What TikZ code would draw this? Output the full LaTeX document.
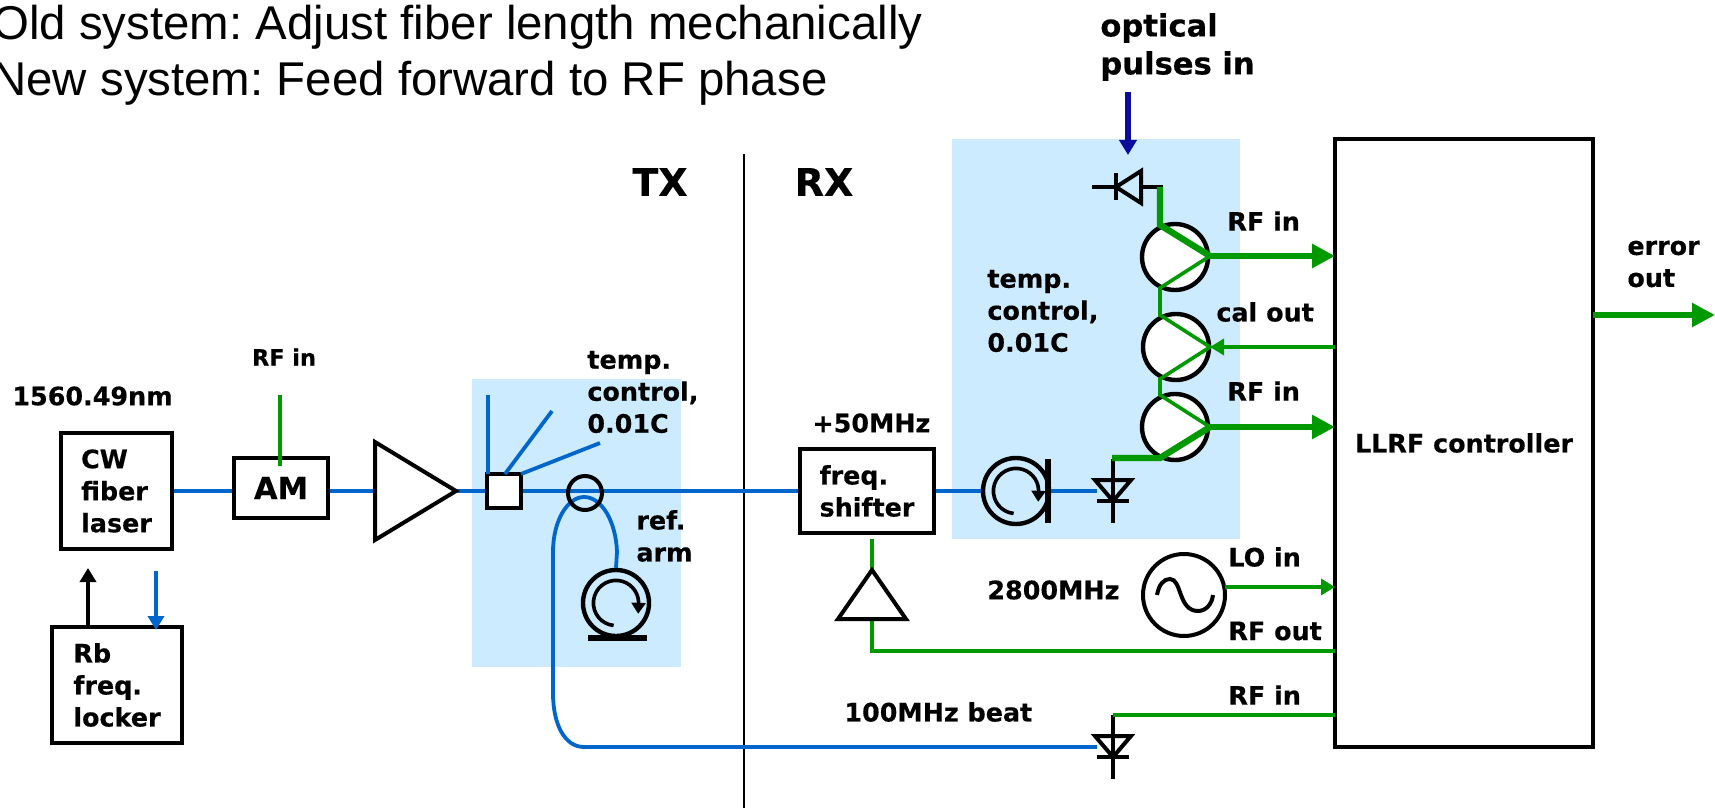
\documentclass[tikz,border=0pt]{standalone}
\usepackage{fontspec}
\setmainfont{DejaVu Sans}[BoldFeatures={FakeBold=0.35}]
\newfontfamily\arialf{Liberation Sans}
\usetikzlibrary{arrows.meta,calc}
\definecolor{lblue}{HTML}{CCEBFF}
\definecolor{fblue}{HTML}{0066CC}
\definecolor{rfgreen}{HTML}{009900}
\definecolor{dblue}{HTML}{0B0B9C}
\tikzset{
  lab/.style={font=\fontsize{12.7}{16}\selectfont\bfseries,anchor=west,inner sep=0pt,align=left},
  labsm/.style={font=\fontsize{11.2}{14}\selectfont\bfseries,inner sep=0pt},
  labbig/.style={font=\fontsize{19}{22}\selectfont\bfseries,inner sep=0pt},
  labopt/.style={font=\fontsize{15.3}{19}\selectfont\bfseries,anchor=west,inner sep=0pt,align=left},
  headline/.style={font=\fontsize{23.7}{28}\selectfont\arialf\frenchspacing,anchor=west,inner sep=0pt,text height=.72em,text depth=.2em},
  boxn/.style={draw=black,line width=2pt,fill=white,inner sep=0pt,font=\fontsize{12.7}{16}\selectfont\bfseries,align=left},
  fib/.style={draw=fblue,line width=1.9pt},
  rfthin/.style={draw=rfgreen,line width=1.8pt},
  rfthick/.style={draw=rfgreen,line width=3.2pt},
  sym/.style={draw=black,line width=2pt},
  ring/.style={circle,draw=black,line width=2.2pt,inner sep=0pt,minimum size=33pt},
  rfhead/.style={-{Triangle[length=11.5pt,width=11.5pt]}},
  rfheadsm/.style={-{Triangle[length=7pt,width=8pt]}},
  diodedn/.pic={
    \draw[sym] (0,-32) -- (0,32);
    \draw[sym,fill=none] (-18,-11) -- (18,-11) -- (0,10) -- cycle;
    \draw[sym] (-16,10) -- (16,10);
    \coordinate (-in) at (-16,0);
    \coordinate (-top) at (0,-32);
  },
  spool/.pic={
    \draw[black,line width=1.8pt,-{Triangle[length=5.5pt,width=7pt]}] (-96:11.3pt) arc[start angle=-96,end angle=-358,radius=11.3pt] -- ++(-.2pt,-5.8pt);
  },
}
\begin{document}
\begin{tikzpicture}[x=.5pt,y=-.5pt]
\useasboundingbox (0,0) rectangle (1715,808);
% temperature controlled zones
\fill[lblue] (472,379) rectangle (681,667);
\fill[lblue] (952,139) rectangle (1240,539);
% title
\node[headline] (t1) at (-8,34) {Old system: Adjust fiber length mechanically};
\node[headline] (t2) at (-8,90) {New system: Feed forward to RF phase};
% TX/RX divider
\coordinate (divT) at (744,154);
\coordinate (divB) at (744,808);
\draw[black,line width=1pt] (divT) -- (divB);
\node[labbig] (tx) at (660,182) {TX};
\node[labbig] (rx) at (824,182) {RX};
% named boxes
\node[boxn,minimum width=55.5pt,minimum height=58pt] (laser) at (116.5,491) {CW\\fiber\\laser};
\node[boxn,minimum width=65pt,minimum height=58pt] (locker) at (117,685) {Rb\\freq.\\locker};
\node[boxn,minimum width=47pt,minimum height=30pt,font=\fontsize{15.3}{18}\selectfont\bfseries] (am) at (281,488) {AM};
\node[boxn,minimum width=67pt,minimum height=42pt] (shifter) at (867,491) {freq.\\shifter};
\node[boxn,minimum width=129pt,minimum height=304pt,anchor=center] (llrf) at (1464,443) {LLRF controller};
% coordinates
\coordinate (ampL) at (375,491); \coordinate (ampT) at (456,491);
\node[boxn,minimum size=17pt] (split) at (504,491) {};
\coordinate (end1) at (488,395);
\coordinate (end2) at (552,411);
\coordinate (end3) at (600,443);
\coordinate (s1) at (488,474); \coordinate (s2) at (505,474); \coordinate (s3) at (521,474);
\coordinate (amIn) at (280,395); \coordinate (amT) at (280,466);
% fibre paths
\draw[fib] (laser.east) -- (laser.east -| am.west);
\draw[fib] (am.east |- laser.east) -- (ampL);
\draw[fib] (ampT) -- (split.west);
\draw[fib] (split.east) -- (shifter.west);
\draw[fib] (end1) -- (s1);
\draw[fib] (end2) -- (s2);
\draw[fib] (end3) -- (s3);
\draw[rfthin] (amIn) -- (amT);
\path (1113,491) pic (d1) {diodedn};
\path (1113,747) pic (d2) {diodedn};
\node[ring] (circ) at (1016,491) {};
\node[ring] (sp2) at (616,603) {};
\draw[fib] (shifter.east) -- (circ.west);
\draw[fib] (circ.east) -- (d1-in);
\coordinate (loopA) at (584,747);
\draw[fib] (sp2.north) -- (617,552) .. controls (616,522) and (602,497) .. (584,497) .. controls (568,497) and (553,520) .. (553,552) -- (553,693) .. controls (553,725) and (565,747) .. (loopA) -- (d2-in);
\node[circle,draw=black,line width=2pt,inner sep=0pt,minimum size=17pt] (tap) at (585,493) {};
% amplifier 1
\draw[sym,fill=white] (375,442) -- (ampT) -- (375,540) -- cycle;
% circulator bars and arcs
\path (circ.center) pic {spool};
\coordinate (barT) at (1048,459); \coordinate (barB) at (1048,523);
\draw[black,line width=3pt] (barT) -- (barB);
\path (sp2.center) pic {spool};
\coordinate (bar2L) at (588,638); \coordinate (bar2R) at (647,638);
\draw[black,line width=3pt] (bar2L) -- (bar2R);
% laser / locker arrows
\coordinate (lockUp) at (88,568); \coordinate (lockDnS) at (156,571); \coordinate (lockDnE) at (156,630); \coordinate (lockUpS) at (88,627);
\draw[black,line width=2pt,rfheadsm] (lockUpS) -- (lockUp);
\draw[fib,rfheadsm] (lockDnS) -- (lockDnE);
% top diode
\coordinate (dtL) at (1092,187); \coordinate (dtR) at (1163,187);
\draw[sym] (dtL) -- (dtR);
\draw[sym] (1116,173) -- (1116,200);
\draw[sym,fill=lblue] (1116,187) -- (1141,171) -- (1141,203) -- cycle;
% optical input
\coordinate (optS) at (1128,92); \coordinate (optE) at (1128,155);
\draw[dblue,line width=2.6pt,-{Triangle[length=7.5pt,width=8.5pt]}] (optS) -- (optE);
% mixers
\node[ring,fill=white] (m1) at (1175,257) {};
\node[ring,fill=white] (m2) at (1176,347) {};
\node[ring,fill=white] (m3) at (1175,427) {};
\coordinate (m1t) at (1160,225); \coordinate (m1p) at (1210,256); \coordinate (m1b) at (1160,288);
\coordinate (m2t) at (1160,315); \coordinate (m2p) at (1210,347); \coordinate (m2b) at (1160,379);
\coordinate (m3t) at (1160,395); \coordinate (m3p) at (1210,427); \coordinate (m3b) at (1160,458);
\coordinate (lo1) at (1335,256); \coordinate (lo2) at (1335,347); \coordinate (lo3) at (1335,427);
\draw[rfthin] (m1p) -- (m1b) -- (m2t) -- (m2p) -- (m2b) -- (m3t) -- (m3p);
\draw[rfthick] (1160,187) -- (m1t) -- (m1p);
\draw[rfthick,rfhead] (m1p) -- (lo1);
\draw[rfthick,rfhead] (m3p) -- (lo3);
\draw[rfthick] (m3p) -- (m3b) -- (1112,458);
\draw[rfthin,rfheadsm] (lo2) -- (m2p);
% LO
\node[circle,draw=black,line width=2pt,inner sep=0pt,minimum size=41pt] (lo) at (1184,595) {};
\draw[black,line width=2pt] (1157,595) .. controls (1159,584) and (1164,579) .. (1170,579) .. controls (1182,579) and (1178,611) .. (1198,611) .. controls (1206,611) and (1212,604) .. (1213,595);
\coordinate (loE) at (1335,587); \coordinate (loS) at (1225,587);
\draw[rfthin,rfheadsm] (loS) -- (loE);
% amplifier 2 and RF drive
\coordinate (a2T) at (872,570); \coordinate (a2Bm) at (872,619); \coordinate (a2C) at (872,651); \coordinate (rfO) at (1335,651); \coordinate (shB) at (872,539);
\draw[rfthin] (rfO) -- (a2C) -- (a2Bm);
\draw[rfthin] (a2T) -- (shB);
\draw[sym] (a2T) -- (838,619) -- (906,619) -- cycle;
% beat
\coordinate (bE) at (1335,715);
\draw[rfthin] (bE) -- (bE -| d2-top) -- (d2-top);
% error
\coordinate (errE) at (1715,315); \coordinate (errS) at (1593,315);
\draw[rfthick,rfhead] (errS) -- (errE);
% labels
\node[lab] (l1560) at (12,396) {1560.49nm};
\node[labsm] (lrfam) at (284,357) {RF in};
\node[lab] (ltc1) at (587,392) {temp.\\control,\\0.01C};
\node[lab] (lref) at (636,536) {ref.\\arm};
\node[lab] (l50) at (812,423) {+50MHz};
\node[lab] (ltc2) at (987,311) {temp.\\control,\\0.01C};
\node[labopt] (lopt) at (1100,47) {optical\\pulses in};
\node[lab] (lrf1) at (1227,221) {RF in};
\node[lab] (lcal) at (1216,312) {cal out};
\node[lab] (lrf2) at (1227,391) {RF in};
\node[lab] (l2800) at (987,590) {2800MHz};
\node[lab] (llo) at (1228,557) {LO in};
\node[lab] (lrfo) at (1228,631) {RF out};
\node[lab] (lrfb) at (1228,695) {RF in};
\node[lab] (lbeat) at (844,712) {100MHz beat};
\node[lab] (lerr) at (1627,264) {error\\out};
\end{tikzpicture}
\end{document}
